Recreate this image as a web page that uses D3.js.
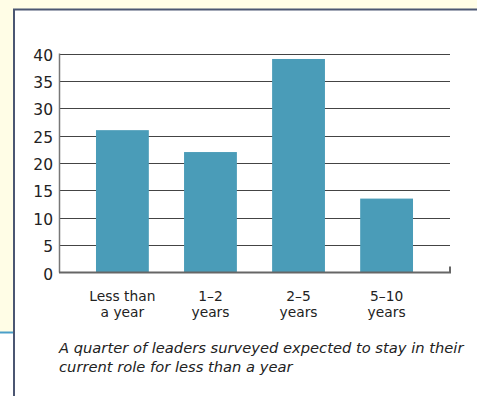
<!DOCTYPE html>
<html>
<head>
<meta charset="utf-8">
<script src="https://cdn.jsdelivr.net/npm/d3@7"></script>
<style>
  html, body { margin: 0; padding: 0; background: #fffde6; }
  svg { display: block; }
  text { font-family: "DejaVu Sans", sans-serif; fill: #222; }
</style>
</head>
<body>
<script>
// Expected time in current role, % of leaders surveyed
const categories = ["Less than|a year", "1–2|years", "2–5|years", "5–10|years"];
const values = [26, 22, 39, 13.5];
const yTicks = [0, 5, 10, 15, 20, 25, 30, 35, 40];
const captionLines = [
  "A quarter of leaders surveyed expected to stay in their",
  "current role for less than a year"
];

const W = 477, H = 396;
const FONT = "'DejaVu Sans', sans-serif";
const svg = d3.select("body").append("svg").attr("width", W).attr("height", H);

// page background and white panel with border
svg.append("rect").attr("width", W).attr("height", H).attr("fill", "#fffde6");
svg.append("rect").attr("x", 0).attr("y", 333).attr("width", 14).attr("height", H - 333).attr("fill", "#ffffff");
svg.append("line").attr("x1", 0).attr("x2", 14).attr("y1", 332.5).attr("y2", 332.5)
  .attr("stroke", "#4a9fc9").attr("stroke-width", 2);
svg.append("rect").attr("x", 14).attr("y", 9).attr("width", W - 14).attr("height", H - 9).attr("fill", "#ffffff");
svg.append("path").attr("d", `M14,${H} V9.5 H${W}`)
  .attr("fill", "none").attr("stroke", "#4b5672").attr("stroke-width", 2);

const x0 = 59, x1 = 450;
const x = d3.scaleBand().domain(categories).range([x0, x1]).paddingInner(0.4).paddingOuter(0.42);
const y = d3.scaleLinear().domain([0, 40]).range([272.5, 53.5]);

// horizontal gridlines
svg.append("g").selectAll("line").data(yTicks.filter(d => d > 0)).join("line")
  .attr("x1", x0).attr("x2", x1)
  .attr("y1", d => Math.round(y(d)) + 0.5).attr("y2", d => Math.round(y(d)) + 0.5)
  .attr("stroke", "#444").attr("stroke-width", 1.1);

// bars
svg.append("g").selectAll("rect").data(values).join("rect")
  .attr("x", (d, i) => x(categories[i]))
  .attr("width", x.bandwidth())
  .attr("y", d => y(d))
  .attr("height", d => y(0) - y(d))
  .attr("fill", "#4a9cb8");

// y axis line
svg.append("line").attr("x1", x0 + 0.5).attr("x2", x0 + 0.5).attr("y1", y(40)).attr("y2", y(0))
  .attr("stroke", "#777").attr("stroke-width", 1.5);

// x axis baseline with end tick
svg.append("path").attr("d", `M${x0},${y(0)} H${x1} V${y(0) - 6}`)
  .attr("fill", "none").attr("stroke", "#666").attr("stroke-width", 2);

// y tick labels
const yAxis = d3.axisLeft(y).tickValues(yTicks).tickSize(0).tickPadding(6);
const gy = svg.append("g").attr("transform", `translate(${x0},0)`).call(yAxis);
gy.select(".domain").remove();
gy.selectAll("text")
  .style("font-family", FONT)
  .attr("font-size", 15.5).attr("fill", "#222").attr("dy", "0.42em");

// x category labels (two lines each)
const xl = svg.append("g").selectAll("text").data(categories).join("text")
  .attr("text-anchor", "middle")
  .attr("font-size", 13.8)
  .attr("transform", d => `translate(${x(d) + x.bandwidth() / 2},301)`);
xl.selectAll("tspan").data(d => d.split("|")).join("tspan")
  .attr("x", 0).attr("dy", (d, i) => i === 0 ? 0 : 16).text(d => d);

// caption
svg.append("g").selectAll("text").data(captionLines).join("text")
  .attr("x", 59).attr("y", (d, i) => 353 + i * 18.5)
  .attr("font-size", 14.7).attr("font-style", "italic").attr("fill", "#222")
  .text(d => d);
</script>
</body>
</html>
